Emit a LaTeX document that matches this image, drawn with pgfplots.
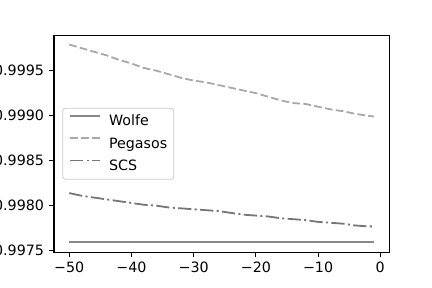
\documentclass[border=0pt]{standalone}
\usepackage{pgfplots}
\pgfplotsset{compat=1.18}
\usepackage{fontspec}
\setmainfont{DejaVu Sans}
\definecolor{wolfec}{RGB}{136,136,136}
\definecolor{pegc}{RGB}{168,168,168}
\definecolor{scsc}{RGB}{118,118,118}
\definecolor{legframe}{RGB}{204,204,204}
\newcommand{\tl}[1]{\mbox{\fontsize{14.3}{17}\selectfont #1}}
\begin{document}
\begin{tikzpicture}
\begin{axis}[
  at={(0,0)}, anchor=south west,
  scale only axis, width=335.3bp, height=217bp,
  xmin=-52.45, xmax=1.45, ymin=0.997482, ymax=0.999893,
  xtick={-50,-40,-30,-20,-10,0},
  xticklabels={\tl{−50},\tl{−40},\tl{−30},\tl{−20},\tl{−10},\tl{0}},
  ytick={0.9975,0.998,0.9985,0.999,0.9995},
  yticklabels={\tl{0.9975},\tl{0.9980},\tl{0.9985},\tl{0.9990},\tl{0.9995}},
  tick align=outside, tick pos=left,
  major tick length=4.9bp,
  every tick/.style={black, line width=1.1bp},
  axis line style={line width=1.1bp},
  xticklabel style={inner sep=0pt, yshift=-4.9bp},
  yticklabel style={inner sep=0pt, xshift=-4.9bp},
  legend cell align=left,
  legend image code/.code={\draw[#1] (0bp,5.5bp) -- (30bp,5.5bp);},
  legend style={
    at={(0.025,0.5)}, anchor=west,
    font=\fontsize{14.3}{17}\selectfont,
    draw=legframe, line width=0.8bp, rounded corners=3bp,
    fill=white, fill opacity=0.8, text opacity=1,
    inner xsep=6.5bp, inner ysep=6.5bp,
    row sep=8.8bp,
    nodes={inner sep=0pt, text height=11bp, text depth=2.5bp},
  },
  legend columns=1,
]
\addplot[wolfec, line width=1.8bp] coordinates {
(-50,0.99760) (-1,0.99760)
};
\addlegendentry{\hspace{8bp}Wolfe}
\addplot[pegc, line width=1.8bp, dash pattern=on 7.7bp off 3.3bp] coordinates {
(-50,0.99979) (-48,0.99975) (-46,0.99971) (-44,0.99967) (-42,0.99962)
(-40,0.99958) (-38,0.99953) (-36,0.99950) (-34,0.99946) (-32,0.99942)
(-30,0.99939) (-28,0.99937) (-26,0.99934) (-24,0.99931) (-22,0.99928)
(-20,0.99925) (-18,0.99921) (-16,0.99917) (-14,0.99914) (-12,0.99913)
(-10,0.99910) (-8,0.99907) (-6,0.99905) (-4,0.99902) (-2,0.99900) (-1,0.99899)
};
\addlegendentry{\hspace{8bp}Pegasos}
\addplot[scsc, line width=1.8bp, dash pattern=on 13.3bp off 3.3bp on 2.1bp off 3.3bp] coordinates {
(-50,0.99814) (-48,0.99811) (-46,0.99809) (-44,0.99807) (-42,0.99805)
(-40,0.99803) (-38,0.99801) (-36,0.99800) (-34,0.99798) (-32,0.99797)
(-30,0.99796) (-28,0.99795) (-26,0.99794) (-24,0.99792) (-22,0.99790)
(-20,0.99789) (-18,0.99788) (-16,0.99786) (-14,0.99785) (-12,0.99784)
(-10,0.99782) (-8,0.99781) (-6,0.99780) (-4,0.99778) (-2,0.99777) (-1,0.99777)
};
\addlegendentry{\hspace{8bp}SCS}
\end{axis}
\pgfresetboundingbox
\path[use as bounding box] (-54bp,-35.7bp) rectangle (378bp,252.3bp);
\end{tikzpicture}
\end{document}
